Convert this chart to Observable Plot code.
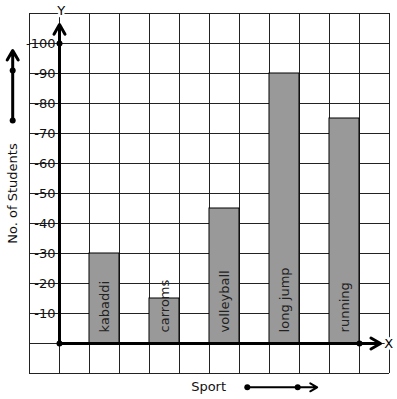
<!DOCTYPE html>
<html><head><meta charset="utf-8">
<script src="https://cdn.jsdelivr.net/npm/d3@7"></script>
<script src="https://cdn.jsdelivr.net/npm/@observablehq/plot@0.6"></script>
<style>body{margin:0;background:#fff} svg{font-family:"DejaVu Sans",sans-serif}</style>
</head><body><div id="chart"></div>
<script>
const sports = ["kabaddi", "carroms", "volleyball", "long jump", "running"];
const students = [30, 15, 45, 90, 75];
const yTickValues = [10, 20, 30, 40, 50, 60, 70, 80, 90, 100];
const gridX = d3.range(-1, 12);
const gridY = d3.range(-10, 111, 10);
const xTitle = "Sport";
const yTitle = "No. of Students";
const xAxisLetter = "X";
const yAxisLetter = "Y";
const yArrowEnd = 106.3;
const xArrowEnd = 10.7;
const axisDots = [{x: 0, y: 0}, {x: 0, y: 100}, {x: 10, y: 0}];
const sideArrow = {x: -1.56, from: 74.3, to: 97.7, dots: [74.3, 91]};
const bottomArrow = {y: -14.6, from: 6.26, to: 8.59, dots: [6.26, 7.94]};

const bars = sports.map((s, i) => ({sport: s, value: students[i], x1: i * 2 + 1, x2: i * 2 + 2}));

const chart = Plot.plot({
  width: 397, height: 399,
  marginLeft: 29, marginRight: 8, marginTop: 13, marginBottom: 26,
  x: {type: "linear", domain: [-1, 11], axis: null},
  y: {type: "linear", domain: [-10, 110], axis: null},
  style: {fontFamily: "DejaVu Sans", fontSize: "13px", background: "#fff"},
  marks: [
    Plot.ruleX(gridX, {stroke: "#222", strokeWidth: 1}),
    Plot.ruleY(gridY, {stroke: "#222", strokeWidth: 1}),
    Plot.rect(bars, {x1: "x1", x2: "x2", y1: 0, y2: "value", fill: "#999", stroke: "#000", strokeWidth: 1}),
    Plot.text(bars, {x: d => (d.x1 + d.x2) / 2, y: 3.7, text: "sport", rotate: -90, textAnchor: "start", fontSize: 13, fill: "#222"}),
    Plot.text(yTickValues, {x: 0, y: d => d, text: d => "-" + d, textAnchor: "end", dx: -4, fontSize: 13, fill: "#111"}),
    Plot.arrow([{a: 0}], {x1: 0, y1: 0, x2: 0, y2: yArrowEnd, stroke: "#000", strokeWidth: 3, headLength: 5.5, headAngle: 60}),
    Plot.arrow([{a: 0}], {x1: 0, y1: 0, x2: xArrowEnd, y2: 0, stroke: "#000", strokeWidth: 3, headLength: 5.5, headAngle: 60}),
    Plot.dot(axisDots, {x: "x", y: "y", r: 3, fill: "#000"}),
    Plot.text([yAxisLetter], {x: 0.06, y: 111, text: d => d, fill: "#000", stroke: "#fff", strokeWidth: 5, fontSize: 13}),
    Plot.text([xAxisLetter], {x: 10.97, y: 0, text: d => d, fill: "#000", stroke: "#fff", strokeWidth: 5, fontSize: 13}),
    Plot.text([yTitle], {x: -1.55, y: 50, text: d => d, rotate: -90, fill: "#111", fontSize: 13}),
    Plot.arrow([{a: 0}], {x1: sideArrow.x, y1: sideArrow.from, x2: sideArrow.x, y2: sideArrow.to, stroke: "#000", strokeWidth: 3, headLength: 5.5, headAngle: 60}),
    Plot.dot(sideArrow.dots, {x: sideArrow.x, y: d => d, r: 3, fill: "#000"}),
    Plot.text([xTitle], {x: 4.97, y: -14.4, text: d => d, fill: "#111", fontSize: 13}),
    Plot.arrow([{a: 0}], {x1: bottomArrow.from, y1: bottomArrow.y, x2: bottomArrow.to, y2: bottomArrow.y, stroke: "#000", strokeWidth: 2, headLength: 6, headAngle: 60}),
    Plot.dot(bottomArrow.dots, {x: d => d, y: bottomArrow.y, r: 3, fill: "#000"})
  ]
});
document.getElementById("chart").appendChild(chart);
</script>
</body></html>
